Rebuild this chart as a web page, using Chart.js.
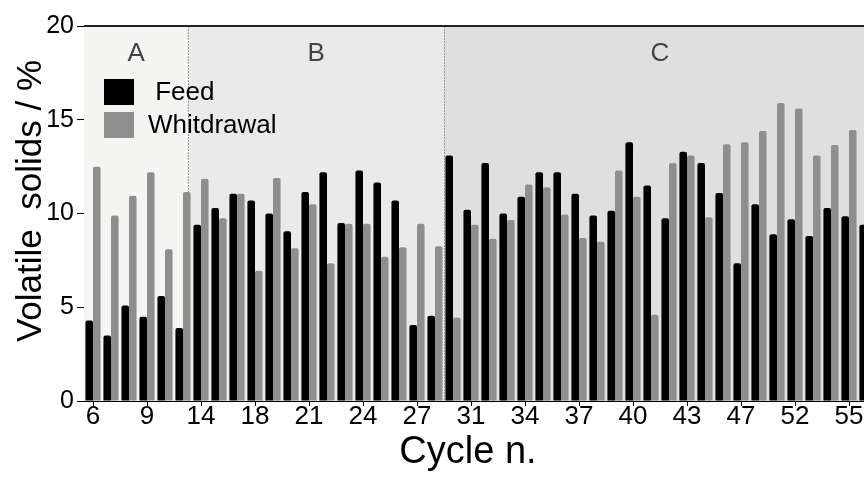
<!DOCTYPE html>
<html><head><meta charset="utf-8">
<script src="https://cdn.jsdelivr.net/npm/chart.js@4.4.1/dist/chart.umd.min.js"></script>
<style>
html,body{margin:0;padding:0;overflow:hidden;background:#fff;width:864px;height:486px}
#wrap{position:relative;width:880px;height:486px}
</style>
</head><body><div id="wrap"><canvas id="c" width="880" height="486"></canvas></div>
<script>
// ---- data ----
const cycles = [6,7,8,9,10,12,14,15,17,18,19,20,21,22,23,24,25,26,27,28,29,31,32,33,34,35,36,37,38,39,40,41,42,43,44,46,47,49,50,52,53,54,55,56];
const feed = [4.3,3.5,5.1,4.5,5.6,3.9,9.4,10.3,11.05,10.7,10.0,9.05,11.15,12.2,9.5,12.3,11.65,10.7,4.05,4.55,
              13.1,10.2,12.7,10.0,10.9,12.2,12.2,11.05,9.9,10.15,13.8,11.5,9.75,13.3,12.7,11.1,7.35,10.5,8.9,9.7,8.8,10.3,9.85,9.4];
const withdrawal = [12.5,9.9,10.95,12.2,8.1,11.15,11.85,9.75,11.05,6.95,11.9,8.15,10.5,7.35,9.45,9.45,7.7,8.2,9.45,8.25,
              4.45,9.4,8.65,9.65,11.55,11.4,9.95,8.7,8.5,12.3,10.9,4.6,12.7,13.1,9.8,13.7,13.8,14.4,15.9,15.6,13.1,13.65,14.45,null];
const seriesNames = [' Feed', 'Whitdrawal'];
const yTicks = [0,5,10,15,20];
const labeledCycles = [6,9,14,18,21,24,27,31,34,37,40,43,47,52,55];
const phases = ['A','B','C'];
const phaseBounds = [-0.5, 5.3, 19.5, 43.5];
const xTitle = 'Cycle n.';
const yTitle = 'Volatile  solids / %';

const FONT = '"Liberation Sans", Arial, Helvetica, sans-serif';
const phaseColors = ['#f4f4f3','#eaeaea','#dfdfdf'];

const bgPlugin = {
  id:'bg',
  beforeDatasetsDraw(chart){
    const {ctx, chartArea:a, scales:{x}} = chart;
    const px = v => x.getPixelForDecimal((v+0.5)/cycles.length);
    ctx.save();
    for(let i=0;i<phases.length;i++){
      const x0 = Math.max(a.left, px(phaseBounds[i]));
      const x1 = px(phaseBounds[i+1]);
      ctx.fillStyle = phaseColors[i];
      ctx.fillRect(x0, a.top, x1-x0, a.bottom-a.top);
    }
    ctx.strokeStyle = '#9a9a9a';
    ctx.lineWidth = 1;
    ctx.setLineDash([2,1]);
    for(let i=1;i<phases.length;i++){
      const xx = Math.round(px(phaseBounds[i]))+0.5;
      ctx.beginPath(); ctx.moveTo(xx, a.top); ctx.lineTo(xx, a.bottom); ctx.stroke();
    }
    ctx.setLineDash([]);
    ctx.fillStyle = '#444';
    ctx.font = '26px ' + FONT;
    ctx.textAlign = 'center'; ctx.textBaseline = 'middle';
    for(let i=0;i<phases.length;i++){
      const x0 = Math.max(a.left, px(phaseBounds[i]));
      const x1 = px(phaseBounds[i+1]);
      ctx.fillText(phases[i], (x0+x1)/2, a.top+28);
    }
    ctx.restore();
  },
  afterDraw(chart){
    const {ctx, chartArea:a} = chart;
    ctx.save();
    // top frame line
    ctx.strokeStyle = '#222'; ctx.lineWidth = 2;
    ctx.beginPath(); ctx.moveTo(a.left, a.top); ctx.lineTo(a.right, a.top); ctx.stroke();
    // legend
    ctx.font = '26px ' + FONT;
    ctx.textAlign = 'left'; ctx.textBaseline = 'middle';
    chart.data.datasets.forEach((ds, i) => {
      const bx = a.left + 20, by = a.top + 53 + i*33;
      ctx.fillStyle = ds.backgroundColor;
      ctx.fillRect(bx, by, 30, 26);
      ctx.fillStyle = '#000';
      ctx.fillText(ds.label, bx + 44, by + 14);
    });
    // axis titles
    ctx.fillStyle = '#000';
    ctx.textAlign = 'center'; ctx.textBaseline = 'middle';
    ctx.font = '38px ' + FONT;
    ctx.fillText(xTitle, a.left + 384, a.bottom + 52);
    ctx.translate(31, a.top + 175);
    ctx.rotate(-Math.PI/2);
    ctx.font = '35px ' + FONT;
    ctx.fillText(yTitle, 0, 0);
    ctx.restore();
  }
};

new Chart(document.getElementById('c'), {
  type:'bar',
  data:{
    labels: cycles.map(String),
    datasets:[
      {label: seriesNames[0], data: feed, backgroundColor:'#000000', borderRadius:{topLeft:2, topRight:2}, borderSkipped:'bottom'},
      {label: seriesNames[1], data: withdrawal, backgroundColor:'#8e8e8e', borderRadius:{topLeft:2, topRight:2}, borderSkipped:'bottom'}
    ]
  },
  options:{
    responsive:false, animation:false, devicePixelRatio:1,
    layout:{padding:{top:26, right:4, left:0, bottom:0}},
    plugins:{legend:{display:false}, tooltip:{enabled:false}},
    datasets:{bar:{categoryPercentage:0.84, barPercentage:1}},
    scales:{
      x:{
        offset:true,
        grid:{offset:false, drawOnChartArea:false, drawTicks:true, tickLength:5, color:'#000'},
        border:{color:'#000', width:1},
        ticks:{autoSkip:false, maxRotation:0, minRotation:0, color:'#000', padding:-5,
          font:{family:FONT, size:26},
          callback(v){ const c = cycles[v]; return labeledCycles.includes(c) ? String(c) : null; }},
        afterFit(s){ s.height = 85; }
      },
      y:{
        min:0, max:20,
        afterBuildTicks(s){ s.ticks = yTicks.map(v => ({value:v})); },
        grid:{drawOnChartArea:false, drawTicks:true, tickLength:7, color:'#000'},
        border:{color:'#000', width:1},
        ticks:{color:'#000', padding:3, font:{family:FONT, size:25}},
        afterFit(s){ s.width = 84; }
      }
    }
  },
  plugins:[bgPlugin]
});
</script>
</body></html>
